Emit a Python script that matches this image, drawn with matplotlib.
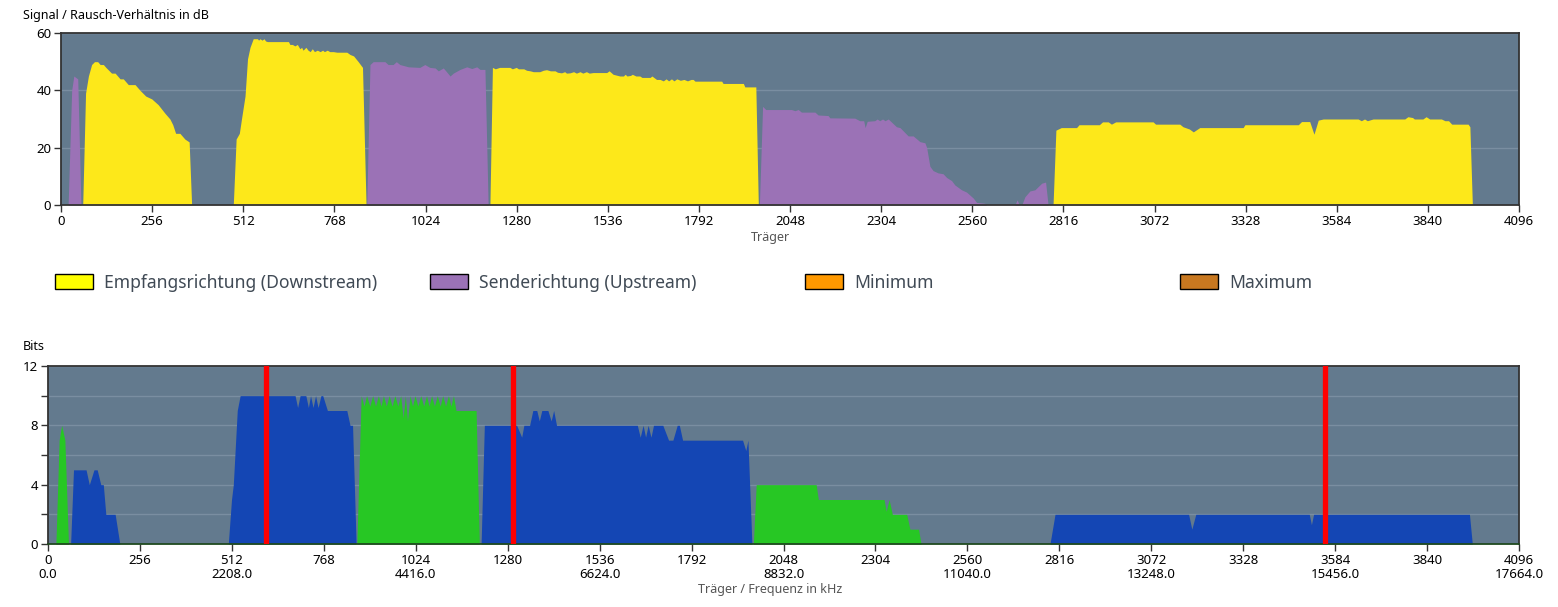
import matplotlib
matplotlib.use("Agg")
import matplotlib.pyplot as plt
from matplotlib.patches import Rectangle
from matplotlib.ticker import MultipleLocator

# ---------------- data ----------------
# Signal / Rausch-Verhaeltnis (dB) - downstream (yellow)
ds_snr_carrier = [61, 69, 77, 86, 94, 103, 110, 119, 126, 142, 152, 166, 175, 189, 208, 222, 238, 255, 273,
                  292, 306, 314, 322, 334, 348, 360, 367,
                  484, 492, 501, 507, 517, 524, 531, 540, 552, 555, 559, 565, 570, 575, 580, 601, 639, 643,
                  650, 657, 664, 671, 676, 680, 688, 694, 700, 706, 712, 720, 728, 735, 740, 748, 755, 765,
                  775, 803, 812, 822, 835, 847, 857,
                  1205, 1212, 1220, 1232, 1261, 1268, 1279, 1285, 1300, 1308, 1318, 1327, 1345, 1355, 1364,
                  1375, 1388, 1395, 1406, 1415, 1420, 1430, 1440, 1448, 1458, 1466, 1476, 1484, 1495, 1505,
                  1533, 1540, 1551, 1570, 1580, 1585, 1590, 1600, 1605, 1615, 1626, 1632, 1645, 1655, 1660,
                  1673, 1683, 1692, 1700, 1707, 1715, 1722, 1730, 1740, 1750, 1760, 1770, 1776, 1781, 1856,
                  1860, 1917, 1921, 1952, 1959,
                  2787, 2795, 2810, 2853, 2860, 2917, 2926, 2942, 2951, 2963, 3068, 3075, 3143, 3152, 3170,
                  3181, 3199, 3321, 3326, 3476, 3485, 3508, 3520, 3532, 3546, 3644, 3653, 3662, 3670, 3686,
                  3775, 3784, 3797, 3802, 3826, 3835, 3845, 3878, 3888, 3898, 3907, 3953, 3958, 3965]
ds_snr_db = [0, 39, 45, 49, 50, 50, 49, 49, 48, 46, 46, 44, 44, 42, 42, 40, 38, 37, 35,
             32, 30, 28, 25, 25, 23, 22, 0,
             0, 23, 25, 30, 38, 51, 55, 58, 58, 57.5, 58, 57.5, 58, 57.2, 57, 57, 57, 56,
             56, 55.5, 56, 54.5, 55, 54, 55, 54, 53.5, 54.5, 53.5, 54, 53.5, 54, 53.5, 54, 53.5, 53.5,
             53.3, 53.3, 52.5, 52, 50, 48, 0,
             0, 48, 47.5, 48, 48, 47.5, 48, 47.5, 47.5, 47, 46.8, 46.5, 46.5, 47, 47.2,
             46.8, 46.8, 46.3, 46.1, 46.5, 46, 46.1, 46.5, 46, 46.5, 46, 46.5, 46, 46.2, 46.2,
             46.2, 46.8, 45.6, 45, 45, 45.6, 45, 45.2, 45.6, 45, 45, 44.5, 44.5, 44.5, 45,
             43.8, 43.8, 43.3, 44, 43.3, 44, 43.3, 44, 43.5, 43.8, 43.3, 43.8, 43.8, 43.2, 43.2,
             42.4, 42.4, 41.2, 41.2, 0,
             0, 26.1, 27, 27, 28, 28, 29, 29, 28.2, 29, 29, 28.2, 28.2, 27.3, 26.5,
             25.5, 27, 27, 28, 28, 29.1, 29.1, 24.7, 29.6, 30, 30, 29.4, 30, 29.4, 30,
             30, 30.8, 30.5, 30, 30, 30.8, 30, 30, 29.4, 29.4, 28.2, 28.2, 27.3, 0]

# Signal / Rausch-Verhaeltnis (dB) - upstream (purple)
us_snr_carrier = [20, 30, 36, 47, 56,
                  859, 868, 877, 910, 919, 933, 942, 952, 976, 1008, 1022, 1036, 1051, 1060, 1074, 1083,
                  1093, 1102, 1121, 1140, 1154, 1168, 1177, 1191, 1200,
                  1962, 1971, 1980, 2052, 2062, 2071, 2080, 2118, 2127, 2155, 2160, 2230, 2244, 2255, 2259,
                  2265, 2286, 2293, 2300, 2308, 2315, 2324, 2347, 2357, 2380, 2394, 2413, 2427, 2432, 2441,
                  2450, 2464, 2478, 2488, 2502, 2511, 2530, 2544, 2563, 2572, 2595, 2600,
                  2680, 2686, 2692, 2699, 2708, 2722, 2736, 2755, 2766, 2773]
us_snr_db = [0, 40, 45, 44, 0,
             0, 49, 50, 50, 49, 49, 50, 49, 48.2, 48, 49, 48, 47.8, 46.8, 47.8, 46.5,
             45, 46, 47.3, 48.2, 47.6, 48.2, 47.3, 47.3, 0,
             0, 34.4, 33.3, 33.3, 32.9, 33.3, 32.4, 32.4, 31.4, 31.2, 30.4, 30.3, 29.4, 29.4, 27,
             29.2, 29.4, 30, 29.4, 30, 29.4, 30, 27.3, 27, 24.1, 24.1, 22.1, 21.7, 20, 13.5,
             12, 11.2, 10.9, 9.6, 8.5, 7, 5.3, 4.5, 2.4, 0.9, 0.6, 0,
             0, 1.8, 0, 0, 2.9, 4.9, 5.3, 7.6, 8, 0]

# Bits - downstream (blue)
ds_bits_carrier = [63, 71, 106, 115, 128, 137, 147, 154, 161, 187, 200,
                   502, 511, 516, 527, 535, 688, 695, 702, 718, 725, 731, 738, 745, 752, 760, 765, 778, 832,
                   841, 848, 858,
                   1206, 1215, 1305, 1319, 1325, 1341, 1350, 1361, 1368, 1375, 1392, 1401, 1408, 1416, 1641,
                   1649, 1657, 1664, 1671, 1679, 1686, 1712, 1728, 1740, 1752, 1758, 1767, 1934, 1943, 1949,
                   1960,
                   2790, 2804, 3176, 3185, 3196, 3512, 3518, 3524, 3958, 3966]
ds_bits = [0, 5, 5, 4, 5, 5, 4, 4, 2, 2, 0,
           0, 3, 4, 9, 10, 10, 9.2, 10, 10, 9.2, 10, 9.2, 10, 9.2, 10, 10, 9, 9,
           8, 8, 0,
           0, 8, 8, 7.2, 8, 8, 9, 9, 8.3, 9, 9, 8.3, 9, 8, 8,
           7.2, 8, 7.2, 8, 7.2, 8, 8, 7, 7, 8, 8, 7, 7, 6.3, 7,
           0,
           0, 2, 2, 1, 2, 2, 1.3, 2, 2, 0]

# Bits - upstream (green)
us_bits_carrier = [22, 31, 38, 47, 57,
                   860, 872, 880, 887, 896, 904, 912, 920, 927, 934, 942, 950, 958, 966, 974, 982, 989,
                   995, 1001, 1008, 1015, 1022, 1030, 1038, 1046, 1054, 1061, 1068, 1076, 1084, 1092, 1099,
                   1107, 1115, 1122, 1129, 1136, 1192, 1201,
                   1964, 1972, 2139, 2145, 2328, 2334, 2342, 2351, 2391, 2400, 2424, 2431]
us_bits = [0, 7, 8, 7, 0,
           0, 10, 9.3, 10, 9.3, 10, 9.3, 10, 9.3, 10, 9.3, 10, 9.3, 10, 9.3, 10, 8.5,
           10, 8.3, 10, 9.3, 10, 9.3, 10, 9.3, 10, 9.3, 10, 9.3, 10, 9.3, 10,
           9.3, 10, 9.3, 10, 9, 9, 0,
           0, 4, 4, 3, 3, 2.2, 3, 2, 2, 1, 1, 0]

marker_carriers = [607, 1294, 3557]

carrier_ticks = list(range(0, 4097, 256))
khz_per_carrier = 4.3125

legend_labels = ["Empfangsrichtung (Downstream)", "Senderichtung (Upstream)", "Minimum", "Maximum"]
legend_colors = ["#ffff00", "#9b72b6", "#ff9900", "#c87820"]

# ---------------- style ----------------
plt.rcParams['font.family'] = ['Noto Sans', 'DejaVu Sans']
BG = '#637a8e'
GRID = '#7a8ea1'
YELLOW = '#fde81a'
PURPLE = '#9b72b6'
BLUE = '#1446b4'
GREEN = '#27c724'
SPINE = '#333333'
W, H = 1558, 607

fig = plt.figure(figsize=(W / 100, H / 100), dpi=100)
ax1 = fig.add_axes([61 / W, 1 - 205 / H, 1458 / W, 172 / H])
ax2 = fig.add_axes([48 / W, 1 - 544 / H, 1471 / W, 178 / H])

for ax in (ax1, ax2):
    ax.set_facecolor(BG)
    ax.set_axisbelow(True)
    for s in ax.spines.values():
        s.set_color(SPINE)
        s.set_linewidth(1.3)
    ax.set_xlim(0, 4096)
    ax.set_xticks(carrier_ticks)
    ax.tick_params(axis='both', which='both', length=5, width=1, color=SPINE,
                   labelsize=9.5, pad=2, labelcolor='black')

# top chart
ax1.fill_between(ds_snr_carrier, ds_snr_db, color=YELLOW, lw=0, zorder=2)
ax1.fill_between(us_snr_carrier, us_snr_db, color=PURPLE, lw=0, zorder=2)
ax1.set_ylim(0, 60)
ax1.set_yticks([0, 20, 40, 60])
ax1.yaxis.grid(True, color=GRID, lw=1)
ax1.set_xticklabels([str(t) for t in carrier_ticks])

# bottom chart
ax2.fill_between(ds_bits_carrier, ds_bits, color=BLUE, lw=0, zorder=2)
ax2.fill_between(us_bits_carrier, us_bits, color=GREEN, lw=0, zorder=2)
for c in marker_carriers:
    ax2.axvline(c, color='#ff0000', lw=3.8, zorder=3)
ax2.set_ylim(0, 12)
ax2.set_yticks([0, 4, 8, 12])
ax2.yaxis.set_minor_locator(MultipleLocator(2))
ax2.yaxis.grid(True, which='both', color=GRID, lw=1)
ax2.spines['bottom'].set_color('#1f4a1f')
labels2 = []
for t in carrier_ticks:
    if t % 512 == 0:
        labels2.append(f"{t}\n{t * khz_per_carrier:.1f}")
    else:
        labels2.append(f"{t}")
ax2.set_xticklabels(labels2, linespacing=1.15, va='top')

# texts
fig.text(23 / W, 1 - 15 / H, "Signal / Rausch-Verhältnis in dB", fontsize=9, va='center', ha='left')
fig.text(23 / W, 1 - 347 / H, "Bits", fontsize=9, va='center', ha='left')
fig.text(770 / W, 1 - 237 / H, "Träger", fontsize=9, color='#555555', va='center', ha='center')
fig.text(770 / W, 1 - 590 / H, "Träger / Frequenz in kHz", fontsize=9, color='#555555',
         va='center', ha='center')

# legend
for i, (lab, col) in enumerate(zip(legend_labels, legend_colors)):
    x0 = 55 + i * 375
    fig.patches.append(Rectangle((x0 / W, 1 - 289 / H), 38 / W, 15 / H, transform=fig.transFigure,
                                 facecolor=col, edgecolor='black', lw=1))
    fig.text((x0 + 49) / W, 1 - 283 / H, lab, fontsize=12.6, color='#404a55', va='center', ha='left')

fig.savefig("out.png", dpi=100)
